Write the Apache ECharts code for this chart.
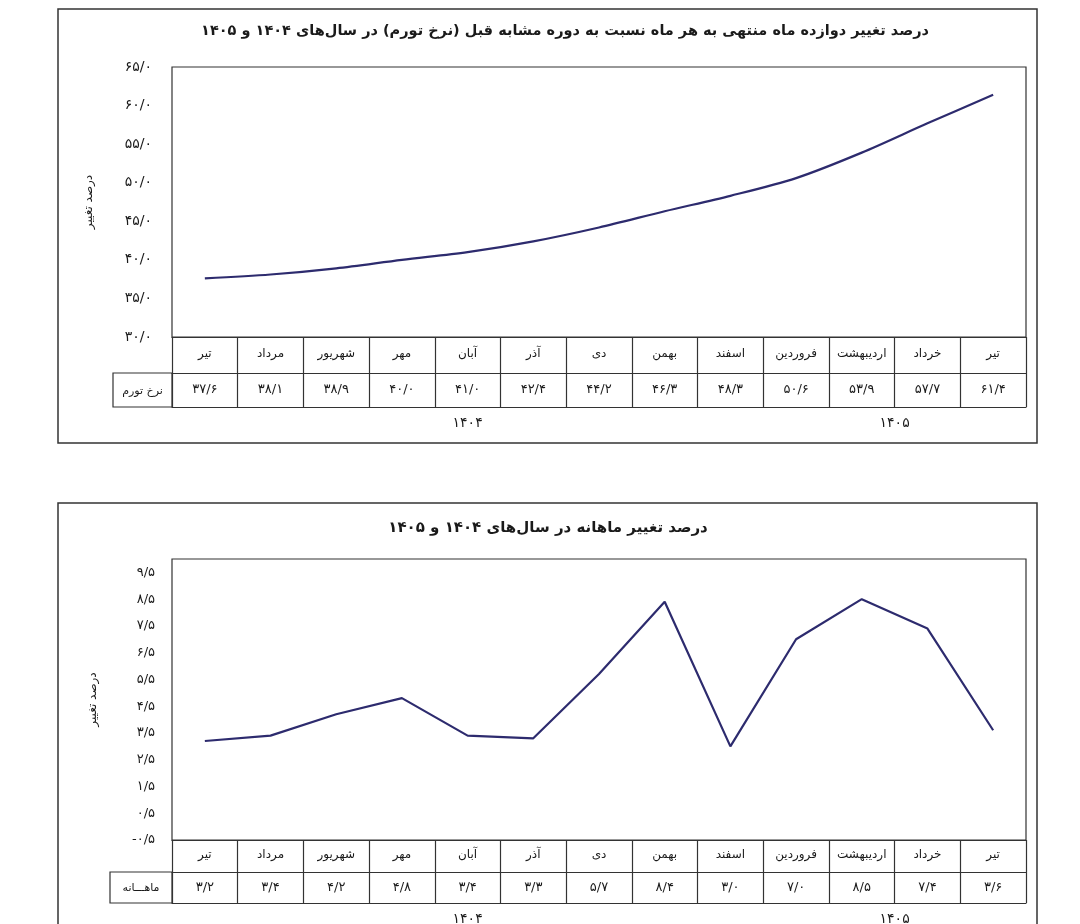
<!DOCTYPE html>
<html>
<head>
<meta charset="utf-8">
<script src="https://cdn.jsdelivr.net/npm/echarts@6/dist/echarts.min.js"></script>
<style>
html,body{margin:0;padding:0;background:#fff;}
#c{width:1080px;height:924px;}
</style>
</head>
<body>
<div id="c"></div>
<script>
// ---- data ----
const months = ['تیر','مرداد','شهریور','مهر','آبان','آذر','دی','بهمن','اسفند','فروردین','اردیبهشت','خرداد','تیر'];
const inflation = [37.6, 38.1, 38.9, 40.0, 41.0, 42.4, 44.2, 46.3, 48.3, 50.6, 53.9, 57.7, 61.4];
const monthly = [3.2, 3.4, 4.2, 4.8, 3.4, 3.3, 5.7, 8.4, 3.0, 7.0, 8.5, 7.4, 3.6];
const yearGroups = [{label:'۱۴۰۴', count:9}, {label:'۱۴۰۵', count:4}];
const title1 = 'درصد تغییر دوازده ماه منتهی به هر ماه نسبت به دوره مشابه قبل (نرخ تورم) در سال‌های ۱۴۰۴ و ۱۴۰۵';
const title2 = 'درصد تغییر ماهانه در سال‌های ۱۴۰۴ و ۱۴۰۵';
const rowLabel1 = 'نرخ تورم';
const rowLabel2 = 'ماهـــانه';
const yName = 'درصد تغییر';

// ---- helpers ----
const FONT = 'DejaVu Sans';
const INK = '#1a1a1a';
const LINE = '#2d2b6e';
const fa = s => String(s).replace(/\d/g, d => '۰۱۲۳۴۵۶۷۸۹'[d]);
const fmt1 = v => fa(Number(v).toFixed(1)).replace('.', '/');
const yearCenters = (() => { let acc = 0; return yearGroups.map(g => { const c = acc + g.count / 2; acc += g.count; return {c, label: g.label}; }); })();
const yearFmt = v => { const g = yearCenters.find(y => Math.abs(y.c - v) < 1e-6); return g ? g.label : ''; };

function tableAxes(grid, values, rowH1, rowH2, valFont) {
  return [
    { gridIndex: grid, type: 'category', data: months, position: 'bottom', boundaryGap: true,
      axisLine: {show: true, onZero: false, lineStyle: {color: '#333', width: 1.2}},
      axisTick: {show: true, interval: 0, length: rowH1 + rowH2, lineStyle: {color: '#333', width: 1.2}},
      axisLabel: {interval: 0, margin: Math.round(rowH1/2) - 7, color: INK, fontFamily: FONT, fontSize: 12},
      splitLine: {show: false} },
    { gridIndex: grid, type: 'category', data: months, position: 'bottom', offset: rowH1, boundaryGap: true,
      axisLine: {show: true, onZero: false, lineStyle: {color: '#333', width: 1.2}},
      axisTick: {show: false},
      axisLabel: {interval: 0, margin: Math.round(rowH2/2) - 7, color: INK, fontFamily: FONT, fontSize: valFont,
        formatter: (v, i) => fmt1(values[i])},
      splitLine: {show: false} },
    { gridIndex: grid, type: 'value', min: 0, max: months.length, interval: 0.5, position: 'bottom', offset: rowH1 + rowH2,
      axisLine: {show: true, onZero: false, lineStyle: {color: '#333', width: 1.2}},
      axisTick: {show: false}, splitLine: {show: false},
      axisLabel: {margin: 9, color: INK, fontFamily: FONT, fontSize: 14, formatter: yearFmt, showMinLabel: true, showMaxLabel: true} }
  ];
}
function headerAxis(grid, label, h) {
  return { gridIndex: grid, type: 'category', data: [label], position: 'bottom',
    axisLine: {show: false, onZero: false}, axisTick: {show: false}, splitLine: {show: false},
    axisLabel: {inside: true, margin: Math.round(h/2) - 7, color: INK, fontFamily: FONT, fontSize: 11} };
}

const chart = echarts.init(document.getElementById('c'), null, {renderer: 'canvas'});
const gridBase = {show: true, borderColor: '#333', borderWidth: 1.2, backgroundColor: '#fff', containLabel: false, outerBoundsMode: 'none'};

chart.setOption({
  backgroundColor: '#fff',
  animation: false,
  textStyle: {fontFamily: FONT},
  title: [
    {text: title1, left: 560, top: 19, textAlign: 'center',
      textStyle: {fontFamily: FONT, fontSize: 14.5, fontWeight: 'bold', color: INK}},
    {text: title2, left: 543, top: 516, textAlign: 'center',
      textStyle: {fontFamily: FONT, fontSize: 15, fontWeight: 'bold', color: INK}}
  ],
  graphic: [
    {type: 'rect', z: -10, shape: {x: 58, y: 9, width: 979, height: 434}, style: {fill: 'none', stroke: '#333', lineWidth: 1.5}},
    {type: 'rect', z: -10, shape: {x: 58, y: 503, width: 979, height: 440}, style: {fill: 'none', stroke: '#333', lineWidth: 1.5}}
  ],
  grid: [
    Object.assign({left: 172, top: 67, width: 854, height: 270}, gridBase),
    Object.assign({left: 113, top: 373, width: 59, height: 34}, gridBase),
    Object.assign({left: 172, top: 559, width: 854, height: 281}, gridBase),
    Object.assign({left: 110, top: 872, width: 62, height: 31}, gridBase)
  ],
  xAxis: [
    ...tableAxes(0, inflation, 36, 34, 13),
    headerAxis(1, rowLabel1, 34),
    ...tableAxes(2, monthly, 32, 31, 13),
    headerAxis(3, rowLabel2, 31)
  ],
  yAxis: [
    { gridIndex: 0, type: 'value', min: 30, max: 65, interval: 5,
      axisLine: {show: false}, axisTick: {show: false}, splitLine: {show: false},
      axisLabel: {margin: 20, color: INK, fontFamily: FONT, fontSize: 14, formatter: fmt1},
      name: yName, nameLocation: 'middle', nameGap: 77,
      nameTextStyle: {color: INK, fontFamily: FONT, fontSize: 12} },
    { gridIndex: 1, type: 'value', show: false },
    { gridIndex: 2, type: 'value', min: -0.5, max: 10, interval: 0.5,
      axisLine: {show: false}, axisTick: {show: false}, splitLine: {show: false},
      axisLabel: {margin: 17, color: INK, fontFamily: FONT, fontSize: 13,
        formatter: v => (Math.round(v * 2) % 2 !== 0) ? fmt1(v) : ''},
      name: yName, nameLocation: 'middle', nameGap: 73,
      nameTextStyle: {color: INK, fontFamily: FONT, fontSize: 12} },
    { gridIndex: 3, type: 'value', show: false }
  ],
  series: [
    { type: 'line', xAxisIndex: 0, yAxisIndex: 0, data: inflation, smooth: 0.3, symbol: 'none',
      lineStyle: {color: LINE, width: 2.2} },
    { type: 'line', xAxisIndex: 4, yAxisIndex: 2, data: monthly, smooth: false, symbol: 'none',
      lineStyle: {color: LINE, width: 2.2} }
  ]
});
</script>
</body>
</html>
